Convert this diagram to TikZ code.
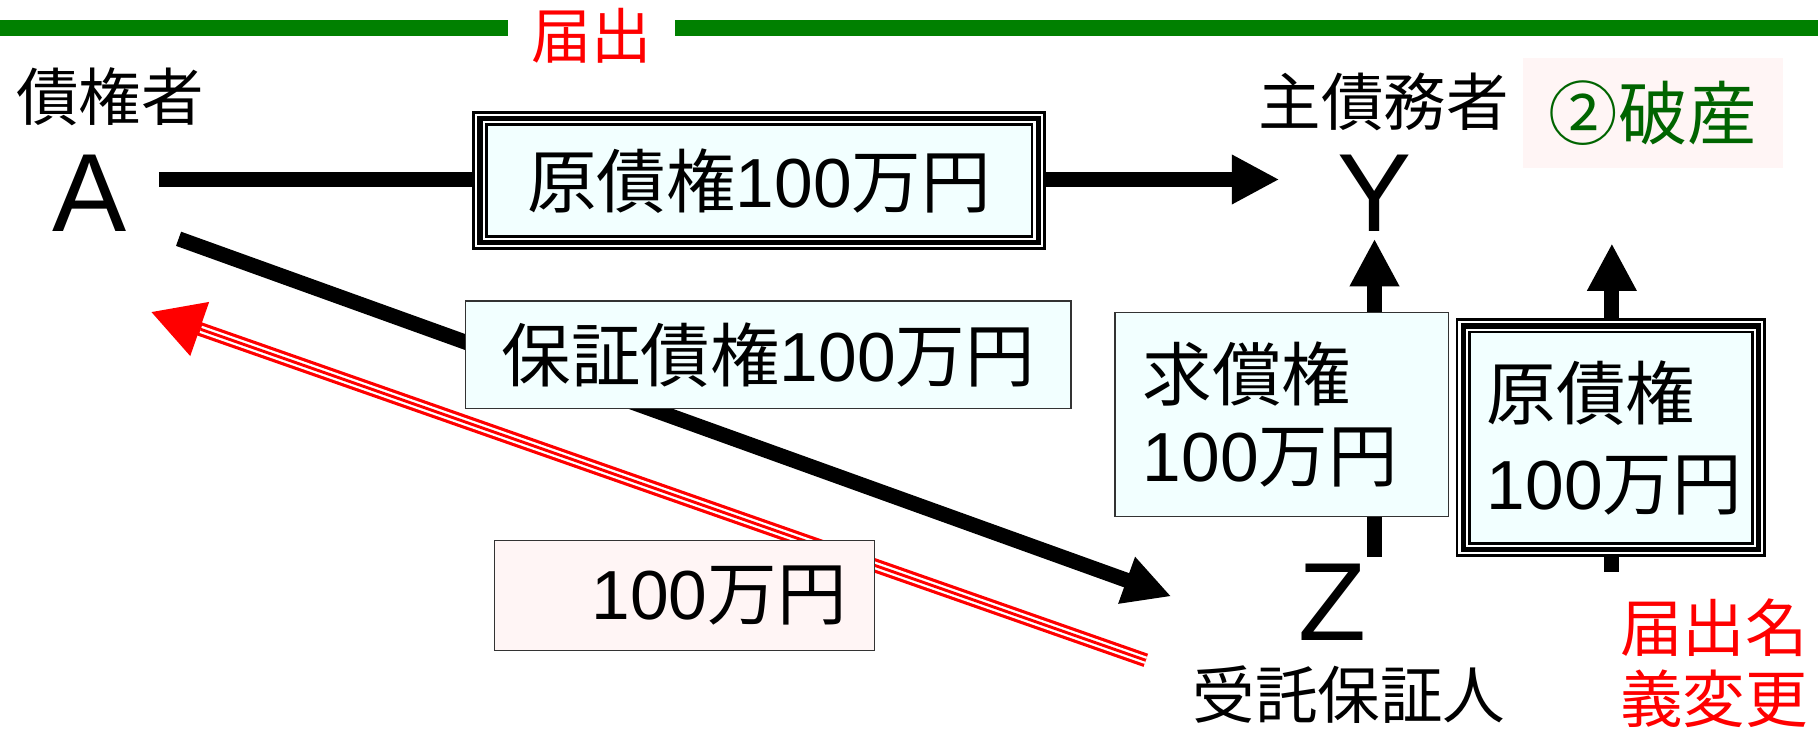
\documentclass[tikz,border=0pt]{standalone}
\usepackage{fontspec}
\setmainfont{Liberation Sans}
\newfontfamily\jp{Noto Sans CJK JP}
\usetikzlibrary{arrows.meta,positioning,calc}
\definecolor{boxcyan}{HTML}{F2FFFF}
\definecolor{boxpink}{HTML}{FFF5F5}
\definecolor{bargreen}{HTML}{008000}
\definecolor{textgreen}{HTML}{006400}

\tikzset{
  letter/.style={inner sep=0pt, font=\fontsize{96}{100}\selectfont},
  party/.style={inner sep=0pt, font=\jp\fontsize{54}{61}\selectfont},
  redlabel/.style={party, text=red},
  boxtext/.style={font=\fontsize{60}{70}\selectfont},
  thinbox/.style={boxtext, draw=black!80, line width=1.2pt, fill=boxcyan, inner sep=0pt},
  triplebox/.style={boxtext, fill=boxcyan, inner sep=0pt,
    postaction={draw=black, line width=13pt},
    postaction={draw=white, line width=8pt},
    postaction={draw=black, line width=4.5pt}},
  thickarrow/.style={draw=black, line width=13pt, -{Triangle[length=41pt,width=40pt]}},
  redarrow/.style={draw=red, line width=12pt, -{Triangle[length=45pt,width=46pt]},
    postaction={draw=white, line width=6.5pt, -, shorten >=46pt},
    postaction={draw=red, line width=2.5pt, -, shorten >=46pt}},
  greenbar/.style={draw=bargreen, line width=14pt},
}

\begin{document}
\begin{tikzpicture}[x=1pt, y=-1pt]
    \useasboundingbox (0,0) rectangle (1570,631);

    % Top bar
    \coordinate (barL) at (0,24);
    \coordinate (barR) at (1570,24);
    \node[redlabel, font=\jp\fontsize{52}{60}\selectfont, inner xsep=20pt] (todokede) at (511,31) {届出};
    \draw[greenbar] (barL) -- (todokede.west |- barL);
    \draw[greenbar] (todokede.east |- barR) -- (barR);

    % Parties
    \node[letter] (A) at (77,167) {A};
    \node[letter] (Y) at (1187,167) {Y};
    \node[letter] (Z) at (1151,520) {Z};
    \node[party] (creditor) at (95,84) {債権者};
    \node[party] (debtor) at (1195,88) {主債務者};
    \node[party] (guarantor) at (1165,600) {受託保証人};
    \node[redlabel, align=center] (meigi) at (1480,573) {届出名\\義変更};
    \node[fill=boxpink, minimum width=225pt, minimum height=95pt,
          font=\jp\fontsize{60}{70}\selectfont, text=textgreen] (hasan) at (1427.5,97.5) {②破産};

    % Connections
    \draw[thickarrow] ([xshift=28pt,yshift=12pt]A.east) -- ([xshift=-50pt,yshift=12pt]Y.west);
    \draw[thickarrow] ([xshift=45pt,yshift=-6pt]A.south east) -- ([xshift=-110pt,yshift=5pt]Z.west);
    \draw[thickarrow] ([yshift=6pt]Z.north -| Y) -- ([yshift=-6pt]Y.south);
    \coordinate (genfoot) at (1392,494);
    \draw[thickarrow] (genfoot) -- ([yshift=-65pt]hasan.south -| genfoot);
    \draw[redarrow] ([xshift=-132pt,yshift=-17pt]Z.south west) -- ([xshift=53pt,yshift=-69pt]A.south);

    % Claims
    \node[triplebox, minimum width=482pt, minimum height=107pt] (genA) at (655.5,156)
        {{\jp 原債権}100{\jp 万円}};
    \node[thinbox, minimum width=523pt, minimum height=93pt] (hosho) at (663.5,306.5)
        {{\jp 保証債権}100{\jp 万円}};
    \node[thinbox, minimum width=288pt, minimum height=176pt, align=left, text width=240pt] (kyusho) at (1107,358)
        {{\jp 求償権}\\100{\jp 万円}};
    \node[triplebox, font=\fontsize{60}{78}\selectfont, minimum width=255pt, minimum height=193pt,
          align=left, text width=214pt] (genB) at (1391,378)
        {{\jp 原債権}\\100{\jp 万円}};
    \node[thinbox, fill=boxpink, minimum width=328pt, minimum height=95pt, align=right, text width=280pt] (payment) at (591,514.5)
        {100{\jp 万円}};
\end{tikzpicture}
\end{document}
